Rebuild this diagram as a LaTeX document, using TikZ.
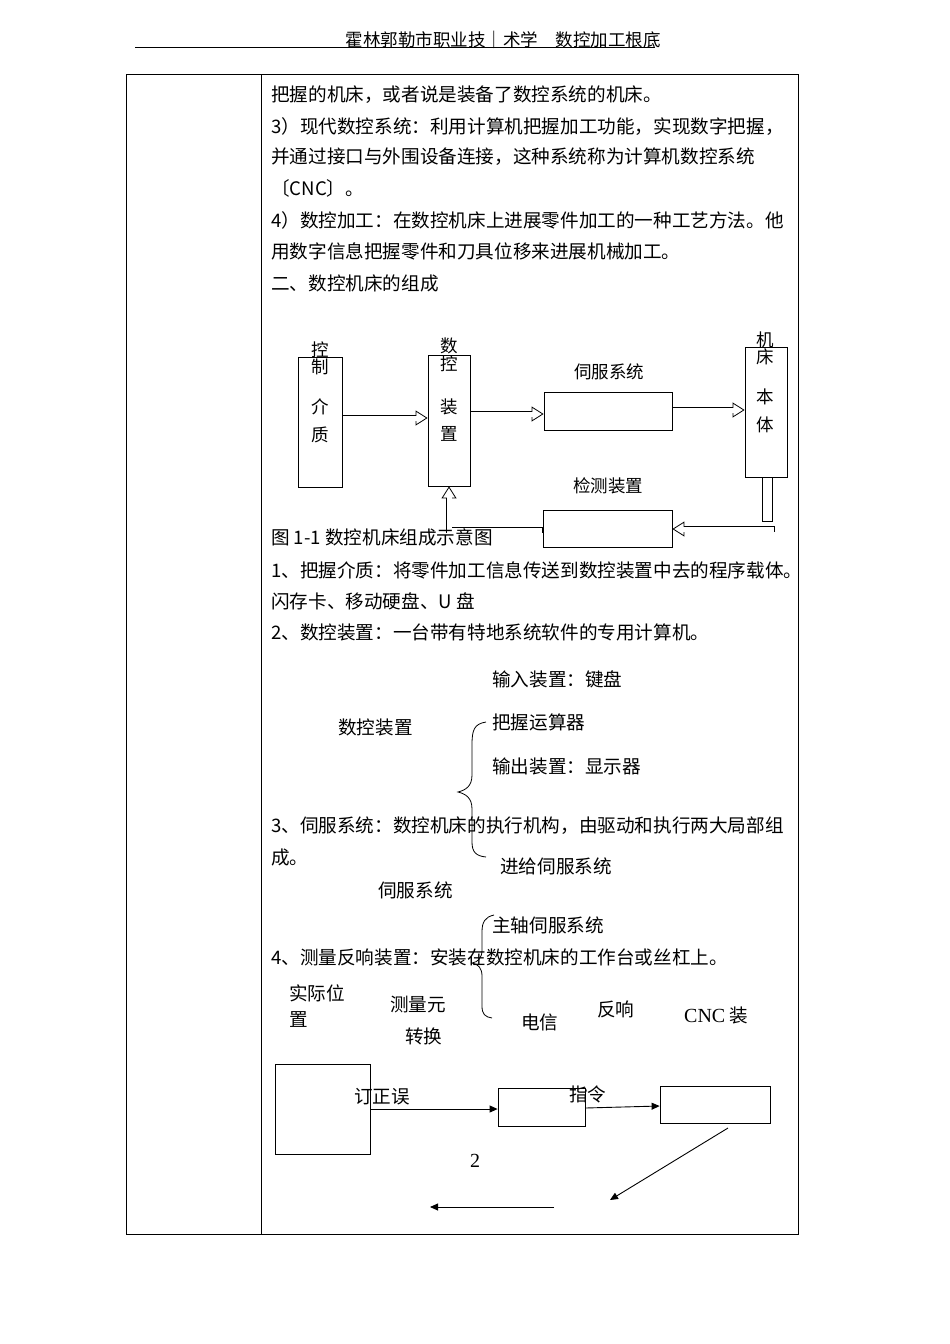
\documentclass[tikz,border=0pt]{standalone}
\usepackage{fontspec}
\setmainfont{Noto Sans CJK SC}
\newfontfamily\latinf{Liberation Serif}
\usetikzlibrary{arrows.meta}
\newcommand\mydbl[3]{%
  \draw[line width=0.8pt,-{Triangle[open,length=12pt,width=15pt]}] (#1) #2 (#3);
  \draw[line width=6.6pt,shorten >=11.6pt] (#1) #2 (#3);
  \draw[white,line width=5pt,shorten >=10.6pt,shorten <=0.8pt] (#1) #2 (#3);}
\begin{document}
\begin{tikzpicture}[x=1pt,y=-1pt,
  txt/.style={anchor=west,inner sep=0pt,font=\fontsize{18.6}{20}\selectfont},
  ctxt/.style={inner sep=0pt,font=\fontsize{17.5}{19}\selectfont},
  box/.style={draw,line width=0.8pt,inner sep=0pt},
  arr/.style={draw,line width=0.9pt,-{Triangle[length=8pt,width=7pt]}}]
\useasboundingbox (0,0) rectangle (950,1344);
% header
\node[ctxt] (hdr) at (503,40) {霍林郭勒市职业技｜术学\quad 数控加工根底};
\draw[line width=0.8pt] (135,47) -- (655,47);
% table
\draw[line width=0.8pt] (126,74) rectangle (798,1234);
\draw[line width=0.8pt] (261,74) -- (261,1234);
% text lines
\node[txt] (t1) at (271,95) {把握的机床，或者说是装备了数控系统的机床。};
\node[txt] (t2) at (271,127) {3）现代数控系统：利用计算机把握加工功能，实现数字把握，};
\node[txt] (t3) at (271,157) {并通过接口与外围设备连接，这种系统称为计算机数控系统};
\node[txt] (t4) at (271,188) {〔CNC〕。};
\node[txt] (t5) at (271,220) {4）数控加工：在数控机床上进展零件加工的一种工艺方法。他};
\node[txt] (t6) at (271,251) {用数字信息把握零件和刀具位移来进展机械加工。};
\node[txt] (t7) at (271,283) {二、数控机床的组成};
% diagram 1
\node[box,minimum width=44pt,minimum height=130pt] (med) at (320,422) {};
\node[box,minimum width=42pt,minimum height=131pt] (cnc) at (449,420.5) {};
\node[box,minimum width=128pt,minimum height=38pt] (servo) at (608,411) {};
\node[box,minimum width=42pt,minimum height=130pt] (mach) at (766,412) {};
\node[box,minimum width=129pt,minimum height=37pt] (det) at (607.5,528.5) {};
\foreach \c/\x/\y in {控/320/350,制/320/367,介/320/407,质/320/435,数/449/346,控/449/364,装/449/407,置/449/434,机/765/340,床/765/357,本/765/397,体/765/425}
  \node[ctxt] at (\x,\y) {\c};
\node[ctxt] (lservo) at (609,372) {伺服系统};
\node[ctxt] (ldet) at (608,486) {检测装置};
\coordinate (p1) at (med.east |- 0,418); \coordinate (q1) at (cnc.west |- 0,418);
\coordinate (p2) at (cnc.east |- 0,414); \coordinate (q2) at (servo.west |- 0,414);
\coordinate (p3) at (servo.east |- 0,410); \coordinate (q3) at (mach.west |- 0,410);
\mydbl{p1}{--}{q1}
\mydbl{p2}{--}{q2}
\mydbl{p3}{--}{q3}
\node[box,minimum width=10pt,minimum height=44pt,anchor=north] (bar) at (767,477) {};
\coordinate (fb) at (775,529);
\coordinate (q4) at (det.east |- fb);
\mydbl{fb}{--}{q4}
\coordinate (p5) at (det.west |- 0,530);
\mydbl{p5}{-|}{cnc.south}
\node[txt] (cap) at (271,537) {图 1-1 数控机床组成示意图};
\node[txt] (t8) at (271,570) {1、把握介质：将零件加工信息传送到数控装置中去的程序载体。};
\node[txt] (t9) at (271,601) {闪存卡、移动硬盘、U 盘};
\node[txt] (t10) at (271,632) {2、数控装置：一台带有特地系统软件的专用计算机。};
\node[txt] (t11) at (492,679) {输入装置：键盘};
\node[txt] (t12) at (338,727) {数控装置};
\node[txt] (t13) at (492,722) {把握运算器};
\node[txt] (t14) at (492,766) {输出装置：显示器};
\node[txt] (t15) at (271,826) {3、伺服系统：数控机床的执行机构，由驱动和执行两大局部组};
\node[txt] (t16) at (271,857) {成。};
\node[txt] (t17) at (500,866) {进给伺服系统};
\node[txt] (t18) at (378,890) {伺服系统};
\node[txt] (t19) at (492,925) {主轴伺服系统};
\node[txt] (t20) at (271,957) {4、测量反响装置：安装在数控机床的工作台或丝杠上。};
% braces
\draw[line width=0.8pt] (486,722) .. controls (474,724) and (472,730) .. (472,745) -- (472,775) .. controls (472,786) and (466,790) .. (458,792) .. controls (466,794) and (472,798) .. (472,809) -- (472,842) .. controls (472,852) and (476,856) .. (486,857);
\draw[line width=0.8pt] (494,915) .. controls (485,917) and (482,922) .. (482,932) -- (482,950) .. controls (482,958) and (478,962) .. (472,963) .. controls (478,964) and (482,968) .. (482,976) -- (482,1006) .. controls (482,1014) and (485,1017) .. (492,1018);
% diagram 2
\node[txt] (a1) at (289,993) {实际位};
\node[txt] (a2) at (289,1019) {置};
\node[txt] (a3) at (390,1005) {测量元};
\node[txt] (a4) at (405,1036) {转换};
\node[txt] (a5) at (521,1022) {电信};
\node[txt] (a6) at (597,1009) {反响};
\node[txt] (a7) at (684,1015) {{\latinf\fontsize{20}{22}\selectfont CNC} 装};
\node[box,minimum width=95pt,minimum height=90pt] (b1) at (322.5,1109) {};
\node[box,minimum width=87pt,minimum height=38pt] (b2) at (541.5,1107) {};
\node[box,minimum width=110pt,minimum height=37pt] (b3) at (715,1104.5) {};
\node[txt] (a8) at (354,1097) {订正误};
\node[txt] (a9) at (569,1094) {指令};
\draw[arr] (b1.east |- 0,1109) -- (b2.west |- 0,1109);
\draw[arr] (b2.east |- 0,1108) -- (b3.west |- 0,1106);
\coordinate (d1) at (728,1128);
\coordinate (d2) at (610,1200);
\coordinate (h1) at (554,1207);
\coordinate (h2) at (430,1207);
\draw[arr] (d1) -- (d2);
\draw[arr] (h1) -- (h2);
\node[ctxt,font=\latinf\fontsize{20}{22}\selectfont] (n2) at (475,1161) {2};
\end{tikzpicture}
\end{document}
